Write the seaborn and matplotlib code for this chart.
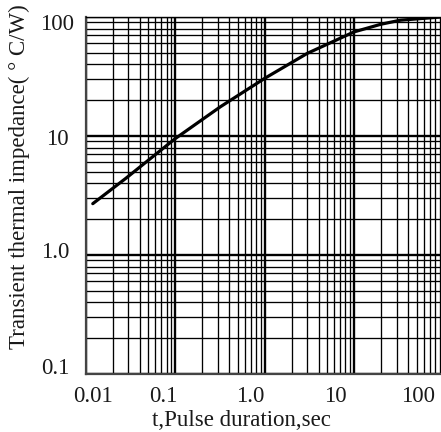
import numpy as np
import pandas as pd
import matplotlib
matplotlib.use('Agg')
import matplotlib.pyplot as plt
import seaborn as sns
from matplotlib.ticker import LogLocator, NullFormatter
from matplotlib.transforms import ScaledTranslation

# curve (t in sec, Z in C/W)
pulse_t = [0.012, 0.028, 0.1, 0.32, 1.0, 3.0, 10, 20, 33, 93]
impedance = [2.7, 4.4, 9.5, 17.6, 30.5, 49.5, 75, 87, 94, 100]

x_ticks = [0.01, 0.1, 1, 10, 100]
x_tick_labels = ['0.01', '0.1', '1.0', '10', '100']
y_ticks = [0.1, 1, 10, 100]
y_tick_labels = ['0.1', '1.0', '10', '100']

df = pd.DataFrame({'t': pulse_t, 'Z': impedance})

sns.set_theme(style='white')
plt.rcParams['font.family'] = ['Liberation Serif', 'DejaVu Serif']

fig = plt.figure(figsize=(4.41, 4.32), dpi=100)
ax = fig.add_axes([85.7 / 441, (432 - 374) / 432, 357.9 / 441, 357 / 432])

sns.lineplot(data=df, x='t', y='Z', color='black', lw=2.3, ax=ax, zorder=5)

ax.set_xscale('log')
ax.set_yscale('log')
ax.set_xlim(0.01, 100)
ax.set_ylim(0.1, 100)
ax.set_xticks(x_ticks)
ax.set_xticklabels(x_tick_labels)
ax.set_yticks(y_ticks)
ax.set_yticklabels(y_tick_labels)
for axis in (ax.xaxis, ax.yaxis):
    axis.set_minor_locator(LogLocator(base=10, subs=range(2, 10)))
    axis.set_minor_formatter(NullFormatter())

ax.grid(which='major', color='black', lw=1.7)
ax.grid(which='minor', color='black', lw=0.95)
ax.tick_params(which='both', length=0, labelsize=16.5, colors='#1a1a1a')
ax.tick_params(axis='x', pad=9)
ax.tick_params(axis='y', pad=12)

for side in ['left', 'bottom']:
    ax.spines[side].set_color('#444444')
    ax.spines[side].set_linewidth(1.6)
ax.spines['top'].set_color('black')
ax.spines['top'].set_linewidth(1.0)
ax.spines['right'].set_visible(False)

# the scanned labels sit a little off their grid lines
x_shift = [7.5, -11.7, -14, -19, -25.6]
for lab, dx in zip(ax.get_xticklabels(), x_shift):
    lab.set_transform(lab.get_transform() + ScaledTranslation(dx / 100, 0, fig.dpi_scale_trans))
y_shift = [(0, 8), (0, 5.5), (0, -1), (5, -4.5)]
for lab, (dx, dy) in zip(ax.get_yticklabels(), y_shift):
    lab.set_transform(lab.get_transform() + ScaledTranslation(dx / 100, dy / 100, fig.dpi_scale_trans))

ax.set_xlabel('t,Pulse duration,sec', fontsize=16.5, color='#1a1a1a')
ax.set_ylabel('Transient thermal impedance( \u00b0 C/W)', fontsize=16.5, color='#1a1a1a')
ax.xaxis.set_label_coords(0.435, -0.1)
ax.yaxis.set_label_coords(-0.155, 0.553)

fig.savefig('out.png', dpi=100)
